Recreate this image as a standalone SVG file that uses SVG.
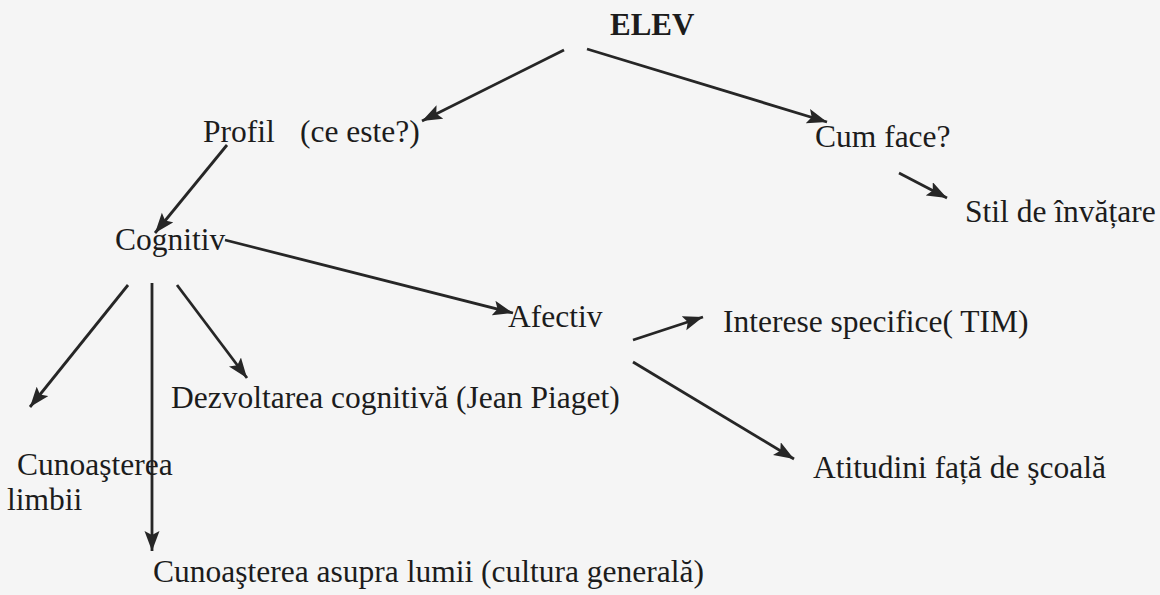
<svg xmlns="http://www.w3.org/2000/svg" width="1160" height="595" viewBox="0 0 1160 595">
<defs>
<style>
.t{font-family:"Liberation Serif","Times New Roman",serif;font-size:31.5px;fill:#1c1c1c}
.b{font-weight:bold;font-size:31px}
.c line{stroke:#262626;stroke-width:2.8;marker-end:url(#ah)}
</style>
<marker id="ah" markerUnits="userSpaceOnUse" markerWidth="22" markerHeight="16" refX="20" refY="7.5" orient="auto">
<path d="M0,0 L20,7.5 L0,15 L4,7.5 Z" fill="#262626"/>
</marker>
</defs>
<rect width="1160" height="595" fill="#f5f5f5"/>
<g class="c" id="connectors">
<line x1="564" y1="50" x2="422" y2="121"/>
<line x1="587" y1="49" x2="827" y2="122"/>
<line x1="899" y1="173" x2="947" y2="198"/>
<line x1="227" y1="145" x2="155" y2="233"/>
<line x1="225" y1="240" x2="513" y2="313"/>
<line x1="128" y1="285" x2="30" y2="407"/>
<line x1="152" y1="283" x2="152" y2="551"/>
<line x1="177" y1="285" x2="247" y2="378"/>
<line x1="633" y1="340" x2="703" y2="317"/>
<line x1="633" y1="362" x2="794" y2="459"/>
</g>
<g id="elev"><text class="t b" x="610" y="35">ELEV</text></g>
<g id="profil"><text class="t" x="203" y="142">Profil</text><text class="t" x="300" y="142">(ce este?)</text></g>
<g id="cumface"><text class="t" x="815" y="147">Cum face?</text></g>
<g id="stil"><text class="t" x="965" y="222">Stil de învățare</text></g>
<g id="cognitiv"><text class="t" x="115" y="250">Cognitiv</text></g>
<g id="afectiv"><text class="t" x="508" y="327">Afectiv</text></g>
<g id="interese"><text class="t" x="723" y="332">Interese specifice( TIM)</text></g>
<g id="dezvoltarea"><text class="t" x="171" y="408">Dezvoltarea cognitivă (Jean Piaget)</text></g>
<g id="atitudini"><text class="t" x="813" y="478">Atitudini față de şcoală</text></g>
<g id="limbii"><text class="t" x="17" y="475">Cunoaşterea</text><text class="t" x="7" y="510">limbii</text></g>
<g id="lumii"><text class="t" x="153" y="582">Cunoaşterea asupra lumii (cultura generală)</text></g>
</svg>
